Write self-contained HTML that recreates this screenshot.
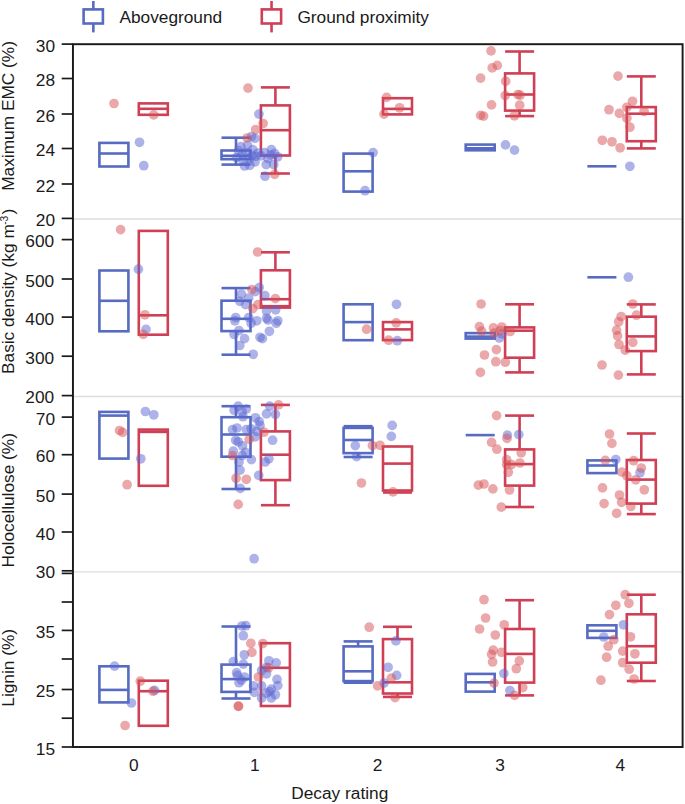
<!DOCTYPE html><html><head><meta charset="utf-8"><title>Decay rating chart</title>
<style>html,body{margin:0;padding:0;background:#fff}svg{display:block}text{font-family:"Liberation Sans",Arial,Helvetica,sans-serif;font-size:17.3px;fill:#1a1a1a}</style></head><body>
<svg width="685" height="804" viewBox="0 0 685 804">
<rect width="685" height="804" fill="#fff"/>
<line x1="73.6" x2="682.1" y1="219.0" y2="219.0" stroke="#dedede" stroke-width="1.3"/>
<line x1="73.6" x2="682.1" y1="396.5" y2="396.5" stroke="#dedede" stroke-width="1.3"/>
<line x1="73.6" x2="682.1" y1="571.8" y2="571.8" stroke="#dedede" stroke-width="1.3"/>
<g stroke="#566BC1" stroke-width="2.6" fill="none"><rect x="99.4" y="142.9" width="29.0" height="23.6"/><line x1="99.4" x2="128.4" y1="153.5" y2="153.5"/></g>
<g stroke="#CF3F55" stroke-width="2.6" fill="none"><rect x="138.8" y="103.4" width="29.0" height="11.4"/><line x1="138.8" x2="167.8" y1="108.8" y2="108.8"/></g>
<g stroke="#566BC1" stroke-width="2.6" fill="none"><rect x="221.5" y="150.5" width="29.0" height="8.7"/><line x1="221.5" x2="250.5" y1="155.8" y2="155.8"/><line x1="236.0" x2="236.0" y1="137.7" y2="150.5"/><line x1="221.5" x2="250.5" y1="137.7" y2="137.7"/><line x1="236.0" x2="236.0" y1="159.2" y2="164.6"/><line x1="221.5" x2="250.5" y1="164.6" y2="164.6"/></g>
<g stroke="#CF3F55" stroke-width="2.6" fill="none"><rect x="260.9" y="105.4" width="29.0" height="50.1"/><line x1="260.9" x2="289.9" y1="130.2" y2="130.2"/><line x1="275.4" x2="275.4" y1="87.4" y2="105.4"/><line x1="260.9" x2="289.9" y1="87.4" y2="87.4"/><line x1="275.4" x2="275.4" y1="155.5" y2="173.5"/><line x1="260.9" x2="289.9" y1="173.5" y2="173.5"/></g>
<g stroke="#566BC1" stroke-width="2.6" fill="none"><rect x="343.6" y="153.6" width="29.0" height="38.0"/><line x1="343.6" x2="372.6" y1="171.3" y2="171.3"/></g>
<g stroke="#CF3F55" stroke-width="2.6" fill="none"><rect x="383.0" y="98.2" width="29.0" height="16.2"/><line x1="383.0" x2="412.0" y1="108.9" y2="108.9"/></g>
<g stroke="#566BC1" stroke-width="2.6" fill="none"><rect x="465.7" y="144.6" width="29.0" height="5.7"/><line x1="465.7" x2="494.7" y1="148.3" y2="148.3"/></g>
<g stroke="#CF3F55" stroke-width="2.6" fill="none"><rect x="505.1" y="73.4" width="29.0" height="37.2"/><line x1="505.1" x2="534.1" y1="94.5" y2="94.5"/><line x1="519.6" x2="519.6" y1="51.5" y2="73.4"/><line x1="505.1" x2="534.1" y1="51.5" y2="51.5"/><line x1="519.6" x2="519.6" y1="110.6" y2="116.1"/><line x1="505.1" x2="534.1" y1="116.1" y2="116.1"/></g>
<line x1="587.4" x2="616.4" y1="166.3" y2="166.3" stroke="#566BC1" stroke-width="2.6"/>
<g stroke="#CF3F55" stroke-width="2.6" fill="none"><rect x="626.8" y="107.1" width="29.0" height="34.1"/><line x1="626.8" x2="655.8" y1="113.7" y2="113.7"/><line x1="641.3" x2="641.3" y1="76.4" y2="107.1"/><line x1="626.8" x2="655.8" y1="76.4" y2="76.4"/><line x1="641.3" x2="641.3" y1="141.2" y2="148.4"/><line x1="626.8" x2="655.8" y1="148.4" y2="148.4"/></g>
<g stroke="#566BC1" stroke-width="2.6" fill="none"><rect x="99.4" y="270.5" width="29.0" height="60.8"/><line x1="99.4" x2="128.4" y1="300.8" y2="300.8"/></g>
<g stroke="#CF3F55" stroke-width="2.6" fill="none"><rect x="138.8" y="230.9" width="29.0" height="103.8"/><line x1="138.8" x2="167.8" y1="315.3" y2="315.3"/></g>
<g stroke="#566BC1" stroke-width="2.6" fill="none"><rect x="221.5" y="300.7" width="29.0" height="30.4"/><line x1="221.5" x2="250.5" y1="318.8" y2="318.8"/><line x1="236.0" x2="236.0" y1="288.1" y2="300.7"/><line x1="221.5" x2="250.5" y1="288.1" y2="288.1"/><line x1="236.0" x2="236.0" y1="331.1" y2="354.7"/><line x1="221.5" x2="250.5" y1="354.7" y2="354.7"/></g>
<g stroke="#CF3F55" stroke-width="2.6" fill="none"><rect x="260.9" y="270.3" width="29.0" height="37.3"/><line x1="260.9" x2="289.9" y1="299.2" y2="299.2"/><line x1="275.4" x2="275.4" y1="252.3" y2="270.3"/><line x1="260.9" x2="289.9" y1="252.3" y2="252.3"/><line x1="275.4" x2="275.4" y1="307.6" y2="306.2"/><line x1="260.9" x2="289.9" y1="306.2" y2="306.2"/></g>
<g stroke="#566BC1" stroke-width="2.6" fill="none"><rect x="343.6" y="304.3" width="29.0" height="35.9"/><line x1="343.6" x2="372.6" y1="322.1" y2="322.1"/></g>
<g stroke="#CF3F55" stroke-width="2.6" fill="none"><rect x="383.0" y="322.1" width="29.0" height="18.0"/><line x1="383.0" x2="412.0" y1="329.4" y2="329.4"/></g>
<g stroke="#566BC1" stroke-width="2.6" fill="none"><rect x="465.7" y="333.1" width="29.0" height="5.5"/><line x1="465.7" x2="494.7" y1="336.6" y2="336.6"/></g>
<g stroke="#CF3F55" stroke-width="2.6" fill="none"><rect x="505.1" y="327.4" width="29.0" height="30.3"/><line x1="505.1" x2="534.1" y1="330.7" y2="330.7"/><line x1="519.6" x2="519.6" y1="304.3" y2="327.4"/><line x1="505.1" x2="534.1" y1="304.3" y2="304.3"/><line x1="519.6" x2="519.6" y1="357.7" y2="372.4"/><line x1="505.1" x2="534.1" y1="372.4" y2="372.4"/></g>
<line x1="587.4" x2="616.4" y1="277.3" y2="277.3" stroke="#566BC1" stroke-width="2.6"/>
<g stroke="#CF3F55" stroke-width="2.6" fill="none"><rect x="626.8" y="316.7" width="29.0" height="34.4"/><line x1="626.8" x2="655.8" y1="336.4" y2="336.4"/><line x1="641.3" x2="641.3" y1="304.4" y2="316.7"/><line x1="626.8" x2="655.8" y1="304.4" y2="304.4"/><line x1="641.3" x2="641.3" y1="351.1" y2="374.4"/><line x1="626.8" x2="655.8" y1="374.4" y2="374.4"/></g>
<g stroke="#566BC1" stroke-width="2.6" fill="none"><rect x="99.4" y="411.9" width="29.0" height="46.7"/><line x1="99.4" x2="128.4" y1="415.6" y2="415.6"/></g>
<g stroke="#CF3F55" stroke-width="2.6" fill="none"><rect x="138.8" y="429.6" width="29.0" height="56.2"/><line x1="138.8" x2="167.8" y1="431.9" y2="431.9"/></g>
<g stroke="#566BC1" stroke-width="2.6" fill="none"><rect x="221.5" y="417.2" width="29.0" height="39.5"/><line x1="221.5" x2="250.5" y1="434.5" y2="434.5"/><line x1="236.0" x2="236.0" y1="406.2" y2="417.2"/><line x1="221.5" x2="250.5" y1="406.2" y2="406.2"/><line x1="236.0" x2="236.0" y1="456.7" y2="489.0"/><line x1="221.5" x2="250.5" y1="489.0" y2="489.0"/></g>
<g stroke="#CF3F55" stroke-width="2.6" fill="none"><rect x="260.9" y="431.4" width="29.0" height="48.7"/><line x1="260.9" x2="289.9" y1="454.7" y2="454.7"/><line x1="275.4" x2="275.4" y1="404.9" y2="431.4"/><line x1="260.9" x2="289.9" y1="404.9" y2="404.9"/><line x1="275.4" x2="275.4" y1="480.1" y2="505.2"/><line x1="260.9" x2="289.9" y1="505.2" y2="505.2"/></g>
<g stroke="#566BC1" stroke-width="2.6" fill="none"><rect x="343.6" y="427.9" width="29.0" height="25.2"/><line x1="343.6" x2="372.6" y1="440.0" y2="440.0"/><line x1="358.1" x2="358.1" y1="426.2" y2="427.9"/><line x1="343.6" x2="372.6" y1="426.2" y2="426.2"/><line x1="358.1" x2="358.1" y1="453.1" y2="457.0"/><line x1="343.6" x2="372.6" y1="457.0" y2="457.0"/></g>
<g stroke="#CF3F55" stroke-width="2.6" fill="none"><rect x="383.0" y="446.5" width="29.0" height="44.0"/><line x1="383.0" x2="412.0" y1="463.6" y2="463.6"/><line x1="397.5" x2="397.5" y1="490.5" y2="492.5"/><line x1="383.0" x2="412.0" y1="492.5" y2="492.5"/></g>
<line x1="465.7" x2="494.7" y1="435.1" y2="435.1" stroke="#566BC1" stroke-width="2.6"/>
<g stroke="#CF3F55" stroke-width="2.6" fill="none"><rect x="505.1" y="449.4" width="29.0" height="36.2"/><line x1="505.1" x2="534.1" y1="464.1" y2="464.1"/><line x1="519.6" x2="519.6" y1="415.6" y2="449.4"/><line x1="505.1" x2="534.1" y1="415.6" y2="415.6"/><line x1="519.6" x2="519.6" y1="485.6" y2="507.0"/><line x1="505.1" x2="534.1" y1="507.0" y2="507.0"/></g>
<g stroke="#566BC1" stroke-width="2.6" fill="none"><rect x="587.4" y="460.4" width="29.0" height="12.7"/><line x1="587.4" x2="616.4" y1="465.5" y2="465.5"/></g>
<g stroke="#CF3F55" stroke-width="2.6" fill="none"><rect x="626.8" y="460.0" width="29.0" height="43.6"/><line x1="626.8" x2="655.8" y1="479.6" y2="479.6"/><line x1="641.3" x2="641.3" y1="433.5" y2="460.0"/><line x1="626.8" x2="655.8" y1="433.5" y2="433.5"/><line x1="641.3" x2="641.3" y1="503.6" y2="514.1"/><line x1="626.8" x2="655.8" y1="514.1" y2="514.1"/></g>
<g stroke="#566BC1" stroke-width="2.6" fill="none"><rect x="99.4" y="666.3" width="29.0" height="36.1"/><line x1="99.4" x2="128.4" y1="689.9" y2="689.9"/></g>
<g stroke="#CF3F55" stroke-width="2.6" fill="none"><rect x="138.8" y="680.7" width="29.0" height="45.1"/><line x1="138.8" x2="167.8" y1="691.2" y2="691.2"/></g>
<g stroke="#566BC1" stroke-width="2.6" fill="none"><rect x="221.5" y="664.6" width="29.0" height="27.3"/><line x1="221.5" x2="250.5" y1="679.1" y2="679.1"/><line x1="236.0" x2="236.0" y1="626.5" y2="664.6"/><line x1="221.5" x2="250.5" y1="626.5" y2="626.5"/><line x1="236.0" x2="236.0" y1="691.9" y2="698.5"/><line x1="221.5" x2="250.5" y1="698.5" y2="698.5"/></g>
<g stroke="#CF3F55" stroke-width="2.6" fill="none"><rect x="260.9" y="643.2" width="29.0" height="62.8"/><line x1="260.9" x2="289.9" y1="667.8" y2="667.8"/></g>
<g stroke="#566BC1" stroke-width="2.6" fill="none"><rect x="343.6" y="646.4" width="29.0" height="34.7"/><line x1="343.6" x2="372.6" y1="671.3" y2="671.3"/><line x1="358.1" x2="358.1" y1="641.4" y2="646.4"/><line x1="343.6" x2="372.6" y1="641.4" y2="641.4"/><line x1="358.1" x2="358.1" y1="681.1" y2="682.7"/><line x1="343.6" x2="372.6" y1="682.7" y2="682.7"/></g>
<g stroke="#CF3F55" stroke-width="2.6" fill="none"><rect x="383.0" y="639.1" width="29.0" height="54.4"/><line x1="383.0" x2="412.0" y1="682.3" y2="682.3"/><line x1="397.5" x2="397.5" y1="626.8" y2="639.1"/><line x1="383.0" x2="412.0" y1="626.8" y2="626.8"/><line x1="397.5" x2="397.5" y1="693.5" y2="696.9"/><line x1="383.0" x2="412.0" y1="696.9" y2="696.9"/></g>
<g stroke="#566BC1" stroke-width="2.6" fill="none"><rect x="465.7" y="673.9" width="29.0" height="17.7"/><line x1="465.7" x2="494.7" y1="682.3" y2="682.3"/></g>
<g stroke="#CF3F55" stroke-width="2.6" fill="none"><rect x="505.1" y="629.0" width="29.0" height="53.6"/><line x1="505.1" x2="534.1" y1="653.9" y2="653.9"/><line x1="519.6" x2="519.6" y1="600.2" y2="629.0"/><line x1="505.1" x2="534.1" y1="600.2" y2="600.2"/><line x1="519.6" x2="519.6" y1="682.6" y2="695.4"/><line x1="505.1" x2="534.1" y1="695.4" y2="695.4"/></g>
<g stroke="#566BC1" stroke-width="2.6" fill="none"><rect x="587.4" y="625.3" width="29.0" height="12.6"/><line x1="587.4" x2="616.4" y1="630.8" y2="630.8"/></g>
<g stroke="#CF3F55" stroke-width="2.6" fill="none"><rect x="626.8" y="614.3" width="29.0" height="48.4"/><line x1="626.8" x2="655.8" y1="646.2" y2="646.2"/><line x1="641.3" x2="641.3" y1="594.7" y2="614.3"/><line x1="626.8" x2="655.8" y1="594.7" y2="594.7"/><line x1="641.3" x2="641.3" y1="662.7" y2="681.0"/><line x1="626.8" x2="655.8" y1="681.0" y2="681.0"/></g>
<g fill-opacity="0.5">
<circle cx="139.5" cy="142.3" r="4.85" fill="rgb(92,104,210)"/>
<circle cx="143.8" cy="165.7" r="4.85" fill="rgb(92,104,210)"/>
<circle cx="258.9" cy="114.1" r="4.85" fill="rgb(92,104,210)"/>
<circle cx="255.0" cy="138.4" r="4.85" fill="rgb(92,104,210)"/>
<circle cx="265.0" cy="176.2" r="4.85" fill="rgb(92,104,210)"/>
<circle cx="266.2" cy="164.6" r="4.85" fill="rgb(92,104,210)"/>
<circle cx="273.7" cy="164.6" r="4.85" fill="rgb(92,104,210)"/>
<circle cx="277.7" cy="156.8" r="4.85" fill="rgb(92,104,210)"/>
<circle cx="271.4" cy="149.6" r="4.85" fill="rgb(92,104,210)"/>
<circle cx="264.7" cy="152.6" r="4.85" fill="rgb(92,104,210)"/>
<circle cx="252.8" cy="149.6" r="4.85" fill="rgb(92,104,210)"/>
<circle cx="240.8" cy="146.6" r="4.85" fill="rgb(92,104,210)"/>
<circle cx="247.5" cy="145.1" r="4.85" fill="rgb(92,104,210)"/>
<circle cx="255.7" cy="156.3" r="4.85" fill="rgb(92,104,210)"/>
<circle cx="249.8" cy="158.6" r="4.85" fill="rgb(92,104,210)"/>
<circle cx="244.6" cy="166.0" r="4.85" fill="rgb(92,104,210)"/>
<circle cx="249.8" cy="165.3" r="4.85" fill="rgb(92,104,210)"/>
<circle cx="255.0" cy="161.9" r="4.85" fill="rgb(92,104,210)"/>
<circle cx="270.7" cy="155.1" r="4.85" fill="rgb(92,104,210)"/>
<circle cx="261.0" cy="155.9" r="4.85" fill="rgb(92,104,210)"/>
<circle cx="242.3" cy="154.1" r="4.85" fill="rgb(92,104,210)"/>
<circle cx="251.5" cy="136.5" r="4.85" fill="rgb(92,104,210)"/>
<circle cx="238.5" cy="150.5" r="4.85" fill="rgb(92,104,210)"/>
<circle cx="246.0" cy="152.5" r="4.85" fill="rgb(92,104,210)"/>
<circle cx="252.0" cy="155.5" r="4.85" fill="rgb(92,104,210)"/>
<circle cx="258.0" cy="153.0" r="4.85" fill="rgb(92,104,210)"/>
<circle cx="268.0" cy="158.5" r="4.85" fill="rgb(92,104,210)"/>
<circle cx="274.5" cy="153.5" r="4.85" fill="rgb(92,104,210)"/>
<circle cx="236.5" cy="157.5" r="4.85" fill="rgb(92,104,210)"/>
<circle cx="243.0" cy="160.5" r="4.85" fill="rgb(92,104,210)"/>
<circle cx="373.1" cy="152.6" r="4.85" fill="rgb(92,104,210)"/>
<circle cx="365.0" cy="190.7" r="4.85" fill="rgb(92,104,210)"/>
<circle cx="505.5" cy="144.9" r="4.85" fill="rgb(92,104,210)"/>
<circle cx="514.5" cy="150.1" r="4.85" fill="rgb(92,104,210)"/>
<circle cx="629.9" cy="166.3" r="4.85" fill="rgb(92,104,210)"/>
<circle cx="138.4" cy="269.2" r="4.85" fill="rgb(92,104,210)"/>
<circle cx="146.0" cy="329.4" r="4.85" fill="rgb(92,104,210)"/>
<circle cx="259.2" cy="287.6" r="4.85" fill="rgb(92,104,210)"/>
<circle cx="255.2" cy="291.6" r="4.85" fill="rgb(92,104,210)"/>
<circle cx="241.4" cy="294.1" r="4.85" fill="rgb(92,104,210)"/>
<circle cx="248.7" cy="298.1" r="4.85" fill="rgb(92,104,210)"/>
<circle cx="264.9" cy="295.7" r="4.85" fill="rgb(92,104,210)"/>
<circle cx="239.8" cy="301.3" r="4.85" fill="rgb(92,104,210)"/>
<circle cx="245.5" cy="304.6" r="4.85" fill="rgb(92,104,210)"/>
<circle cx="266.5" cy="311.0" r="4.85" fill="rgb(92,104,210)"/>
<circle cx="275.7" cy="309.8" r="4.85" fill="rgb(92,104,210)"/>
<circle cx="235.7" cy="317.5" r="4.85" fill="rgb(92,104,210)"/>
<circle cx="234.9" cy="320.8" r="4.85" fill="rgb(92,104,210)"/>
<circle cx="248.7" cy="317.5" r="4.85" fill="rgb(92,104,210)"/>
<circle cx="256.8" cy="320.8" r="4.85" fill="rgb(92,104,210)"/>
<circle cx="251.1" cy="323.2" r="4.85" fill="rgb(92,104,210)"/>
<circle cx="266.5" cy="318.3" r="4.85" fill="rgb(92,104,210)"/>
<circle cx="268.1" cy="320.0" r="4.85" fill="rgb(92,104,210)"/>
<circle cx="277.8" cy="320.8" r="4.85" fill="rgb(92,104,210)"/>
<circle cx="276.2" cy="323.2" r="4.85" fill="rgb(92,104,210)"/>
<circle cx="239.0" cy="330.5" r="4.85" fill="rgb(92,104,210)"/>
<circle cx="234.1" cy="334.5" r="4.85" fill="rgb(92,104,210)"/>
<circle cx="244.6" cy="338.6" r="4.85" fill="rgb(92,104,210)"/>
<circle cx="269.4" cy="331.3" r="4.85" fill="rgb(92,104,210)"/>
<circle cx="260.0" cy="337.3" r="4.85" fill="rgb(92,104,210)"/>
<circle cx="262.4" cy="338.6" r="4.85" fill="rgb(92,104,210)"/>
<circle cx="239.8" cy="345.5" r="4.85" fill="rgb(92,104,210)"/>
<circle cx="253.2" cy="354.3" r="4.85" fill="rgb(92,104,210)"/>
<circle cx="396.5" cy="304.3" r="4.85" fill="rgb(92,104,210)"/>
<circle cx="397.3" cy="340.7" r="4.85" fill="rgb(92,104,210)"/>
<circle cx="501.8" cy="333.9" r="4.85" fill="rgb(92,104,210)"/>
<circle cx="499.4" cy="338.0" r="4.85" fill="rgb(92,104,210)"/>
<circle cx="628.4" cy="277.2" r="4.85" fill="rgb(92,104,210)"/>
<circle cx="145.4" cy="411.5" r="4.85" fill="rgb(92,104,210)"/>
<circle cx="153.8" cy="414.8" r="4.85" fill="rgb(92,104,210)"/>
<circle cx="140.8" cy="458.8" r="4.85" fill="rgb(92,104,210)"/>
<circle cx="238.2" cy="406.2" r="4.85" fill="rgb(92,104,210)"/>
<circle cx="234.1" cy="410.2" r="4.85" fill="rgb(92,104,210)"/>
<circle cx="246.3" cy="409.1" r="4.85" fill="rgb(92,104,210)"/>
<circle cx="242.2" cy="411.8" r="4.85" fill="rgb(92,104,210)"/>
<circle cx="243.0" cy="416.7" r="4.85" fill="rgb(92,104,210)"/>
<circle cx="269.7" cy="406.2" r="4.85" fill="rgb(92,104,210)"/>
<circle cx="266.5" cy="413.9" r="4.85" fill="rgb(92,104,210)"/>
<circle cx="275.4" cy="414.3" r="4.85" fill="rgb(92,104,210)"/>
<circle cx="255.5" cy="417.8" r="4.85" fill="rgb(92,104,210)"/>
<circle cx="259.2" cy="421.6" r="4.85" fill="rgb(92,104,210)"/>
<circle cx="260.0" cy="425.6" r="4.85" fill="rgb(92,104,210)"/>
<circle cx="232.5" cy="429.6" r="4.85" fill="rgb(92,104,210)"/>
<circle cx="237.0" cy="428.0" r="4.85" fill="rgb(92,104,210)"/>
<circle cx="246.3" cy="429.6" r="4.85" fill="rgb(92,104,210)"/>
<circle cx="251.1" cy="428.8" r="4.85" fill="rgb(92,104,210)"/>
<circle cx="256.8" cy="431.3" r="4.85" fill="rgb(92,104,210)"/>
<circle cx="255.2" cy="436.9" r="4.85" fill="rgb(92,104,210)"/>
<circle cx="235.7" cy="440.2" r="4.85" fill="rgb(92,104,210)"/>
<circle cx="238.2" cy="441.8" r="4.85" fill="rgb(92,104,210)"/>
<circle cx="272.6" cy="440.2" r="4.85" fill="rgb(92,104,210)"/>
<circle cx="242.5" cy="445.8" r="4.85" fill="rgb(92,104,210)"/>
<circle cx="233.3" cy="451.2" r="4.85" fill="rgb(92,104,210)"/>
<circle cx="245.5" cy="452.3" r="4.85" fill="rgb(92,104,210)"/>
<circle cx="242.2" cy="455.5" r="4.85" fill="rgb(92,104,210)"/>
<circle cx="251.4" cy="459.6" r="4.85" fill="rgb(92,104,210)"/>
<circle cx="268.9" cy="458.8" r="4.85" fill="rgb(92,104,210)"/>
<circle cx="265.2" cy="462.0" r="4.85" fill="rgb(92,104,210)"/>
<circle cx="239.0" cy="462.0" r="4.85" fill="rgb(92,104,210)"/>
<circle cx="240.1" cy="470.1" r="4.85" fill="rgb(92,104,210)"/>
<circle cx="258.7" cy="475.4" r="4.85" fill="rgb(92,104,210)"/>
<circle cx="240.3" cy="488.4" r="4.85" fill="rgb(92,104,210)"/>
<circle cx="254.1" cy="558.7" r="4.85" fill="rgb(92,104,210)"/>
<circle cx="392.2" cy="425.4" r="4.85" fill="rgb(92,104,210)"/>
<circle cx="391.3" cy="436.4" r="4.85" fill="rgb(92,104,210)"/>
<circle cx="355.3" cy="445.6" r="4.85" fill="rgb(92,104,210)"/>
<circle cx="356.6" cy="456.6" r="4.85" fill="rgb(92,104,210)"/>
<circle cx="507.4" cy="435.1" r="4.85" fill="rgb(92,104,210)"/>
<circle cx="518.8" cy="434.6" r="4.85" fill="rgb(92,104,210)"/>
<circle cx="615.8" cy="459.5" r="4.85" fill="rgb(92,104,210)"/>
<circle cx="640.0" cy="472.8" r="4.85" fill="rgb(92,104,210)"/>
<circle cx="114.6" cy="666.1" r="4.85" fill="rgb(92,104,210)"/>
<circle cx="154.6" cy="690.4" r="4.85" fill="rgb(92,104,210)"/>
<circle cx="131.4" cy="703.0" r="4.85" fill="rgb(92,104,210)"/>
<circle cx="241.9" cy="626.0" r="4.85" fill="rgb(92,104,210)"/>
<circle cx="245.8" cy="625.7" r="4.85" fill="rgb(92,104,210)"/>
<circle cx="243.3" cy="635.7" r="4.85" fill="rgb(92,104,210)"/>
<circle cx="244.3" cy="654.8" r="4.85" fill="rgb(92,104,210)"/>
<circle cx="233.3" cy="661.6" r="4.85" fill="rgb(92,104,210)"/>
<circle cx="243.3" cy="664.1" r="4.85" fill="rgb(92,104,210)"/>
<circle cx="268.9" cy="660.8" r="4.85" fill="rgb(92,104,210)"/>
<circle cx="276.2" cy="662.9" r="4.85" fill="rgb(92,104,210)"/>
<circle cx="266.5" cy="667.3" r="4.85" fill="rgb(92,104,210)"/>
<circle cx="261.6" cy="670.5" r="4.85" fill="rgb(92,104,210)"/>
<circle cx="266.5" cy="673.8" r="4.85" fill="rgb(92,104,210)"/>
<circle cx="236.6" cy="672.6" r="4.85" fill="rgb(92,104,210)"/>
<circle cx="237.4" cy="675.4" r="4.85" fill="rgb(92,104,210)"/>
<circle cx="244.6" cy="677.0" r="4.85" fill="rgb(92,104,210)"/>
<circle cx="241.4" cy="680.2" r="4.85" fill="rgb(92,104,210)"/>
<circle cx="239.0" cy="682.7" r="4.85" fill="rgb(92,104,210)"/>
<circle cx="277.0" cy="679.4" r="4.85" fill="rgb(92,104,210)"/>
<circle cx="253.5" cy="685.9" r="4.85" fill="rgb(92,104,210)"/>
<circle cx="261.6" cy="685.9" r="4.85" fill="rgb(92,104,210)"/>
<circle cx="277.8" cy="685.6" r="4.85" fill="rgb(92,104,210)"/>
<circle cx="271.3" cy="689.1" r="4.85" fill="rgb(92,104,210)"/>
<circle cx="269.7" cy="691.6" r="4.85" fill="rgb(92,104,210)"/>
<circle cx="254.4" cy="692.4" r="4.85" fill="rgb(92,104,210)"/>
<circle cx="266.5" cy="693.2" r="4.85" fill="rgb(92,104,210)"/>
<circle cx="275.4" cy="694.8" r="4.85" fill="rgb(92,104,210)"/>
<circle cx="261.6" cy="698.0" r="4.85" fill="rgb(92,104,210)"/>
<circle cx="271.3" cy="698.0" r="4.85" fill="rgb(92,104,210)"/>
<circle cx="395.9" cy="640.9" r="4.85" fill="rgb(92,104,210)"/>
<circle cx="388.1" cy="667.3" r="4.85" fill="rgb(92,104,210)"/>
<circle cx="396.7" cy="675.4" r="4.85" fill="rgb(92,104,210)"/>
<circle cx="384.1" cy="683.0" r="4.85" fill="rgb(92,104,210)"/>
<circle cx="503.9" cy="673.5" r="4.85" fill="rgb(92,104,210)"/>
<circle cx="509.9" cy="690.5" r="4.85" fill="rgb(92,104,210)"/>
<circle cx="623.5" cy="624.8" r="4.85" fill="rgb(92,104,210)"/>
<circle cx="603.8" cy="637.0" r="4.85" fill="rgb(92,104,210)"/>
<circle cx="114.0" cy="103.5" r="4.85" fill="rgb(215,81,85)"/>
<circle cx="153.7" cy="114.9" r="4.85" fill="rgb(215,81,85)"/>
<circle cx="248.0" cy="88.1" r="4.85" fill="rgb(215,81,85)"/>
<circle cx="263.1" cy="123.5" r="4.85" fill="rgb(215,81,85)"/>
<circle cx="255.7" cy="129.5" r="4.85" fill="rgb(215,81,85)"/>
<circle cx="247.1" cy="138.0" r="4.85" fill="rgb(215,81,85)"/>
<circle cx="274.7" cy="174.3" r="4.85" fill="rgb(215,81,85)"/>
<circle cx="386.6" cy="97.4" r="4.85" fill="rgb(215,81,85)"/>
<circle cx="399.6" cy="107.8" r="4.85" fill="rgb(215,81,85)"/>
<circle cx="384.0" cy="114.1" r="4.85" fill="rgb(215,81,85)"/>
<circle cx="491.0" cy="50.9" r="4.85" fill="rgb(215,81,85)"/>
<circle cx="497.3" cy="65.4" r="4.85" fill="rgb(215,81,85)"/>
<circle cx="492.2" cy="67.9" r="4.85" fill="rgb(215,81,85)"/>
<circle cx="480.6" cy="78.1" r="4.85" fill="rgb(215,81,85)"/>
<circle cx="505.7" cy="81.3" r="4.85" fill="rgb(215,81,85)"/>
<circle cx="505.2" cy="95.5" r="4.85" fill="rgb(215,81,85)"/>
<circle cx="517.9" cy="94.5" r="4.85" fill="rgb(215,81,85)"/>
<circle cx="520.1" cy="95.2" r="4.85" fill="rgb(215,81,85)"/>
<circle cx="519.7" cy="105.2" r="4.85" fill="rgb(215,81,85)"/>
<circle cx="491.5" cy="104.9" r="4.85" fill="rgb(215,81,85)"/>
<circle cx="480.6" cy="115.4" r="4.85" fill="rgb(215,81,85)"/>
<circle cx="483.6" cy="116.1" r="4.85" fill="rgb(215,81,85)"/>
<circle cx="514.5" cy="115.8" r="4.85" fill="rgb(215,81,85)"/>
<circle cx="618.0" cy="76.1" r="4.85" fill="rgb(215,81,85)"/>
<circle cx="632.5" cy="101.3" r="4.85" fill="rgb(215,81,85)"/>
<circle cx="626.8" cy="107.3" r="4.85" fill="rgb(215,81,85)"/>
<circle cx="609.0" cy="109.7" r="4.85" fill="rgb(215,81,85)"/>
<circle cx="619.3" cy="113.4" r="4.85" fill="rgb(215,81,85)"/>
<circle cx="644.1" cy="111.5" r="4.85" fill="rgb(215,81,85)"/>
<circle cx="626.9" cy="118.2" r="4.85" fill="rgb(215,81,85)"/>
<circle cx="629.9" cy="127.2" r="4.85" fill="rgb(215,81,85)"/>
<circle cx="602.3" cy="140.3" r="4.85" fill="rgb(215,81,85)"/>
<circle cx="612.0" cy="141.8" r="4.85" fill="rgb(215,81,85)"/>
<circle cx="620.1" cy="147.8" r="4.85" fill="rgb(215,81,85)"/>
<circle cx="120.6" cy="229.6" r="4.85" fill="rgb(215,81,85)"/>
<circle cx="144.9" cy="314.8" r="4.85" fill="rgb(215,81,85)"/>
<circle cx="143.3" cy="334.4" r="4.85" fill="rgb(215,81,85)"/>
<circle cx="257.6" cy="252.0" r="4.85" fill="rgb(215,81,85)"/>
<circle cx="251.9" cy="289.5" r="4.85" fill="rgb(215,81,85)"/>
<circle cx="275.4" cy="298.6" r="4.85" fill="rgb(215,81,85)"/>
<circle cx="257.9" cy="304.6" r="4.85" fill="rgb(215,81,85)"/>
<circle cx="252.7" cy="308.6" r="4.85" fill="rgb(215,81,85)"/>
<circle cx="396.2" cy="322.9" r="4.85" fill="rgb(215,81,85)"/>
<circle cx="366.6" cy="329.2" r="4.85" fill="rgb(215,81,85)"/>
<circle cx="388.6" cy="340.2" r="4.85" fill="rgb(215,81,85)"/>
<circle cx="481.1" cy="304.0" r="4.85" fill="rgb(215,81,85)"/>
<circle cx="479.4" cy="326.6" r="4.85" fill="rgb(215,81,85)"/>
<circle cx="481.6" cy="331.2" r="4.85" fill="rgb(215,81,85)"/>
<circle cx="493.4" cy="327.9" r="4.85" fill="rgb(215,81,85)"/>
<circle cx="501.8" cy="327.0" r="4.85" fill="rgb(215,81,85)"/>
<circle cx="494.0" cy="333.1" r="4.85" fill="rgb(215,81,85)"/>
<circle cx="500.2" cy="330.7" r="4.85" fill="rgb(215,81,85)"/>
<circle cx="510.2" cy="331.5" r="4.85" fill="rgb(215,81,85)"/>
<circle cx="496.4" cy="349.6" r="4.85" fill="rgb(215,81,85)"/>
<circle cx="484.5" cy="355.0" r="4.85" fill="rgb(215,81,85)"/>
<circle cx="495.8" cy="361.7" r="4.85" fill="rgb(215,81,85)"/>
<circle cx="505.3" cy="362.2" r="4.85" fill="rgb(215,81,85)"/>
<circle cx="480.4" cy="372.4" r="4.85" fill="rgb(215,81,85)"/>
<circle cx="632.8" cy="304.0" r="4.85" fill="rgb(215,81,85)"/>
<circle cx="636.5" cy="315.2" r="4.85" fill="rgb(215,81,85)"/>
<circle cx="621.1" cy="316.5" r="4.85" fill="rgb(215,81,85)"/>
<circle cx="618.7" cy="321.8" r="4.85" fill="rgb(215,81,85)"/>
<circle cx="616.6" cy="330.2" r="4.85" fill="rgb(215,81,85)"/>
<circle cx="617.6" cy="335.9" r="4.85" fill="rgb(215,81,85)"/>
<circle cx="632.8" cy="342.4" r="4.85" fill="rgb(215,81,85)"/>
<circle cx="619.0" cy="344.5" r="4.85" fill="rgb(215,81,85)"/>
<circle cx="625.2" cy="350.1" r="4.85" fill="rgb(215,81,85)"/>
<circle cx="602.0" cy="365.0" r="4.85" fill="rgb(215,81,85)"/>
<circle cx="618.4" cy="375.1" r="4.85" fill="rgb(215,81,85)"/>
<circle cx="119.5" cy="430.5" r="4.85" fill="rgb(215,81,85)"/>
<circle cx="122.7" cy="432.4" r="4.85" fill="rgb(215,81,85)"/>
<circle cx="127.1" cy="484.7" r="4.85" fill="rgb(215,81,85)"/>
<circle cx="278.6" cy="404.9" r="4.85" fill="rgb(215,81,85)"/>
<circle cx="264.1" cy="432.1" r="4.85" fill="rgb(215,81,85)"/>
<circle cx="249.2" cy="439.4" r="4.85" fill="rgb(215,81,85)"/>
<circle cx="232.5" cy="455.5" r="4.85" fill="rgb(215,81,85)"/>
<circle cx="236.1" cy="478.2" r="4.85" fill="rgb(215,81,85)"/>
<circle cx="246.3" cy="479.3" r="4.85" fill="rgb(215,81,85)"/>
<circle cx="238.2" cy="504.4" r="4.85" fill="rgb(215,81,85)"/>
<circle cx="372.4" cy="445.6" r="4.85" fill="rgb(215,81,85)"/>
<circle cx="380.0" cy="445.3" r="4.85" fill="rgb(215,81,85)"/>
<circle cx="361.4" cy="483.0" r="4.85" fill="rgb(215,81,85)"/>
<circle cx="393.0" cy="491.9" r="4.85" fill="rgb(215,81,85)"/>
<circle cx="496.6" cy="415.6" r="4.85" fill="rgb(215,81,85)"/>
<circle cx="507.0" cy="438.4" r="4.85" fill="rgb(215,81,85)"/>
<circle cx="491.6" cy="442.4" r="4.85" fill="rgb(215,81,85)"/>
<circle cx="496.9" cy="449.2" r="4.85" fill="rgb(215,81,85)"/>
<circle cx="521.2" cy="452.9" r="4.85" fill="rgb(215,81,85)"/>
<circle cx="506.6" cy="459.7" r="4.85" fill="rgb(215,81,85)"/>
<circle cx="506.6" cy="464.6" r="4.85" fill="rgb(215,81,85)"/>
<circle cx="511.5" cy="464.6" r="4.85" fill="rgb(215,81,85)"/>
<circle cx="519.9" cy="463.0" r="4.85" fill="rgb(215,81,85)"/>
<circle cx="508.3" cy="472.3" r="4.85" fill="rgb(215,81,85)"/>
<circle cx="478.3" cy="485.1" r="4.85" fill="rgb(215,81,85)"/>
<circle cx="484.0" cy="484.0" r="4.85" fill="rgb(215,81,85)"/>
<circle cx="492.9" cy="488.9" r="4.85" fill="rgb(215,81,85)"/>
<circle cx="509.5" cy="490.0" r="4.85" fill="rgb(215,81,85)"/>
<circle cx="501.3" cy="507.1" r="4.85" fill="rgb(215,81,85)"/>
<circle cx="609.5" cy="434.0" r="4.85" fill="rgb(215,81,85)"/>
<circle cx="611.9" cy="443.4" r="4.85" fill="rgb(215,81,85)"/>
<circle cx="605.3" cy="460.4" r="4.85" fill="rgb(215,81,85)"/>
<circle cx="633.7" cy="460.7" r="4.85" fill="rgb(215,81,85)"/>
<circle cx="641.3" cy="468.0" r="4.85" fill="rgb(215,81,85)"/>
<circle cx="621.9" cy="472.0" r="4.85" fill="rgb(215,81,85)"/>
<circle cx="626.8" cy="475.7" r="4.85" fill="rgb(215,81,85)"/>
<circle cx="635.7" cy="479.8" r="4.85" fill="rgb(215,81,85)"/>
<circle cx="602.5" cy="487.9" r="4.85" fill="rgb(215,81,85)"/>
<circle cx="644.3" cy="489.8" r="4.85" fill="rgb(215,81,85)"/>
<circle cx="619.5" cy="495.0" r="4.85" fill="rgb(215,81,85)"/>
<circle cx="604.1" cy="503.6" r="4.85" fill="rgb(215,81,85)"/>
<circle cx="621.6" cy="502.3" r="4.85" fill="rgb(215,81,85)"/>
<circle cx="630.8" cy="506.5" r="4.85" fill="rgb(215,81,85)"/>
<circle cx="616.6" cy="513.3" r="4.85" fill="rgb(215,81,85)"/>
<circle cx="140.3" cy="681.2" r="4.85" fill="rgb(215,81,85)"/>
<circle cx="153.0" cy="691.2" r="4.85" fill="rgb(215,81,85)"/>
<circle cx="125.1" cy="725.5" r="4.85" fill="rgb(215,81,85)"/>
<circle cx="250.8" cy="643.3" r="4.85" fill="rgb(215,81,85)"/>
<circle cx="262.8" cy="643.5" r="4.85" fill="rgb(215,81,85)"/>
<circle cx="251.9" cy="652.4" r="4.85" fill="rgb(215,81,85)"/>
<circle cx="268.6" cy="667.8" r="4.85" fill="rgb(215,81,85)"/>
<circle cx="258.4" cy="677.0" r="4.85" fill="rgb(215,81,85)"/>
<circle cx="238.2" cy="706.1" r="4.85" fill="rgb(215,81,85)"/>
<circle cx="238.6" cy="706.3" r="4.85" fill="rgb(215,81,85)"/>
<circle cx="369.2" cy="627.2" r="4.85" fill="rgb(215,81,85)"/>
<circle cx="391.3" cy="678.1" r="4.85" fill="rgb(215,81,85)"/>
<circle cx="377.6" cy="685.9" r="4.85" fill="rgb(215,81,85)"/>
<circle cx="395.1" cy="697.6" r="4.85" fill="rgb(215,81,85)"/>
<circle cx="484.0" cy="599.7" r="4.85" fill="rgb(215,81,85)"/>
<circle cx="485.6" cy="618.0" r="4.85" fill="rgb(215,81,85)"/>
<circle cx="479.6" cy="629.0" r="4.85" fill="rgb(215,81,85)"/>
<circle cx="504.2" cy="624.8" r="4.85" fill="rgb(215,81,85)"/>
<circle cx="495.3" cy="635.0" r="4.85" fill="rgb(215,81,85)"/>
<circle cx="493.2" cy="650.1" r="4.85" fill="rgb(215,81,85)"/>
<circle cx="491.6" cy="654.4" r="4.85" fill="rgb(215,81,85)"/>
<circle cx="501.5" cy="652.3" r="4.85" fill="rgb(215,81,85)"/>
<circle cx="492.6" cy="662.0" r="4.85" fill="rgb(215,81,85)"/>
<circle cx="519.3" cy="660.9" r="4.85" fill="rgb(215,81,85)"/>
<circle cx="516.3" cy="668.7" r="4.85" fill="rgb(215,81,85)"/>
<circle cx="494.0" cy="683.1" r="4.85" fill="rgb(215,81,85)"/>
<circle cx="522.8" cy="687.6" r="4.85" fill="rgb(215,81,85)"/>
<circle cx="514.7" cy="695.4" r="4.85" fill="rgb(215,81,85)"/>
<circle cx="625.2" cy="594.7" r="4.85" fill="rgb(215,81,85)"/>
<circle cx="628.9" cy="603.3" r="4.85" fill="rgb(215,81,85)"/>
<circle cx="615.8" cy="605.3" r="4.85" fill="rgb(215,81,85)"/>
<circle cx="609.5" cy="614.6" r="4.85" fill="rgb(215,81,85)"/>
<circle cx="613.8" cy="639.7" r="4.85" fill="rgb(215,81,85)"/>
<circle cx="630.5" cy="636.8" r="4.85" fill="rgb(215,81,85)"/>
<circle cx="608.2" cy="646.2" r="4.85" fill="rgb(215,81,85)"/>
<circle cx="622.7" cy="651.1" r="4.85" fill="rgb(215,81,85)"/>
<circle cx="634.9" cy="653.8" r="4.85" fill="rgb(215,81,85)"/>
<circle cx="606.6" cy="657.2" r="4.85" fill="rgb(215,81,85)"/>
<circle cx="622.7" cy="662.7" r="4.85" fill="rgb(215,81,85)"/>
<circle cx="629.2" cy="669.2" r="4.85" fill="rgb(215,81,85)"/>
<circle cx="634.1" cy="679.0" r="4.85" fill="rgb(215,81,85)"/>
<circle cx="600.9" cy="680.2" r="4.85" fill="rgb(215,81,85)"/>
</g>
<rect x="72.95" y="44.2" width="609.65" height="702.8" fill="none" stroke="#1a1a1a" stroke-width="1.95"/>
<line x1="61.7" x2="72.9" y1="44.1" y2="44.1" stroke="#1a1a1a" stroke-width="1.7"/>
<text x="55.1" y="51.6" text-anchor="end">30</text>
<line x1="61.7" x2="72.9" y1="78.5" y2="78.5" stroke="#1a1a1a" stroke-width="1.7"/>
<text x="55.1" y="86.0" text-anchor="end">28</text>
<line x1="61.7" x2="72.9" y1="114.0" y2="114.0" stroke="#1a1a1a" stroke-width="1.7"/>
<text x="55.1" y="121.5" text-anchor="end">26</text>
<line x1="61.7" x2="72.9" y1="148.5" y2="148.5" stroke="#1a1a1a" stroke-width="1.7"/>
<text x="55.1" y="156.0" text-anchor="end">24</text>
<line x1="61.7" x2="72.9" y1="184.0" y2="184.0" stroke="#1a1a1a" stroke-width="1.7"/>
<text x="55.1" y="191.5" text-anchor="end">22</text>
<line x1="61.7" x2="72.9" y1="218.4" y2="218.4" stroke="#1a1a1a" stroke-width="1.7"/>
<text x="55.1" y="225.9" text-anchor="end">20</text>
<line x1="61.7" x2="72.9" y1="239.6" y2="239.6" stroke="#1a1a1a" stroke-width="1.7"/>
<text x="54.2" y="247.1" text-anchor="end">600</text>
<line x1="61.7" x2="72.9" y1="279.0" y2="279.0" stroke="#1a1a1a" stroke-width="1.7"/>
<text x="54.2" y="286.5" text-anchor="end">500</text>
<line x1="61.7" x2="72.9" y1="317.1" y2="317.1" stroke="#1a1a1a" stroke-width="1.7"/>
<text x="54.2" y="324.6" text-anchor="end">400</text>
<line x1="61.7" x2="72.9" y1="356.2" y2="356.2" stroke="#1a1a1a" stroke-width="1.7"/>
<text x="54.2" y="363.7" text-anchor="end">300</text>
<line x1="61.7" x2="72.9" y1="395.6" y2="395.6" stroke="#1a1a1a" stroke-width="1.7"/>
<text x="54.2" y="403.1" text-anchor="end">200</text>
<line x1="61.7" x2="72.9" y1="417.1" y2="417.1" stroke="#1a1a1a" stroke-width="1.7"/>
<text x="55.1" y="424.6" text-anchor="end">70</text>
<line x1="61.7" x2="72.9" y1="454.7" y2="454.7" stroke="#1a1a1a" stroke-width="1.7"/>
<text x="55.1" y="462.2" text-anchor="end">60</text>
<line x1="61.7" x2="72.9" y1="494.1" y2="494.1" stroke="#1a1a1a" stroke-width="1.7"/>
<text x="55.1" y="501.6" text-anchor="end">50</text>
<line x1="61.7" x2="72.9" y1="532.0" y2="532.0" stroke="#1a1a1a" stroke-width="1.7"/>
<text x="55.1" y="539.5" text-anchor="end">40</text>
<line x1="61.7" x2="72.9" y1="570.8" y2="570.8" stroke="#1a1a1a" stroke-width="1.7"/>
<text x="55.1" y="578.3" text-anchor="end">30</text>
<line x1="61.7" x2="72.9" y1="573.4" y2="573.4" stroke="#1a1a1a" stroke-width="1.7"/>
<line x1="61.7" x2="72.9" y1="602.0" y2="602.0" stroke="#1a1a1a" stroke-width="1.7"/>
<line x1="61.7" x2="72.9" y1="630.4" y2="630.4" stroke="#1a1a1a" stroke-width="1.7"/>
<text x="55.1" y="637.9" text-anchor="end">35</text>
<line x1="61.7" x2="72.9" y1="659.0" y2="659.0" stroke="#1a1a1a" stroke-width="1.7"/>
<line x1="61.7" x2="72.9" y1="689.5" y2="689.5" stroke="#1a1a1a" stroke-width="1.7"/>
<text x="55.1" y="697.0" text-anchor="end">25</text>
<line x1="61.7" x2="72.9" y1="718.2" y2="718.2" stroke="#1a1a1a" stroke-width="1.7"/>
<line x1="61.7" x2="72.9" y1="747.0" y2="747.0" stroke="#1a1a1a" stroke-width="1.7"/>
<text x="55.1" y="754.5" text-anchor="end">15</text>
<text x="133.9" y="770.6" text-anchor="middle">0</text>
<text x="254.8" y="770.6" text-anchor="middle">1</text>
<text x="377.6" y="770.6" text-anchor="middle">2</text>
<text x="500.1" y="770.6" text-anchor="middle">3</text>
<text x="620.2" y="770.6" text-anchor="middle">4</text>
<text x="339.8" y="799.2" text-anchor="middle">Decay rating</text>
<text transform="translate(14.3 190.8) rotate(-90)">Maximum EMC (%)</text>
<text transform="translate(14.3 374.0) rotate(-90)">Basic density (kg m<tspan font-size="10.2px" dy="-6.3" dx="-0.6">-3</tspan><tspan dy="6.3" dx="1.2">)</tspan></text>
<text transform="translate(14.3 567.5) rotate(-90)">Holocellulose (%)</text>
<text transform="translate(14.3 706.7) rotate(-90)">Lignin (%)</text>
<g stroke="#566BC1" stroke-width="2.6" fill="none"><line x1="93.35" x2="93.35" y1="1" y2="32.4"/><rect x="83.6" y="9.4" width="19.3" height="14.1" fill="#fff"/></g>
<text x="119.4" y="22.7">Aboveground</text>
<g stroke="#CF3F55" stroke-width="2.6" fill="none"><line x1="271.55" x2="271.55" y1="1" y2="32.4"/><rect x="261.8" y="9.4" width="19.3" height="14.1" fill="#fff"/></g>
<text x="297.4" y="22.7">Ground proximity</text>
</svg></body></html>
